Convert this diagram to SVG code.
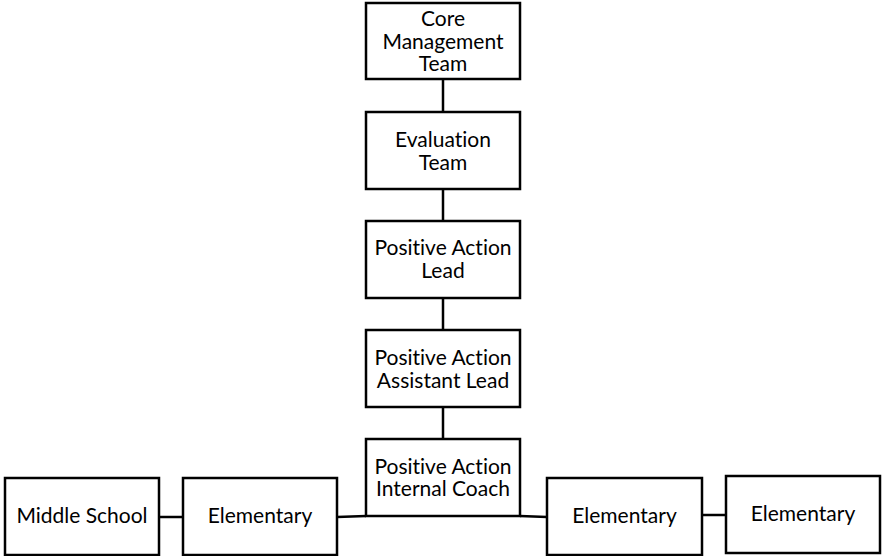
<svg xmlns="http://www.w3.org/2000/svg" width="882" height="556" viewBox="0 0 882 556">
<style>
.box{fill:#fff;stroke:#000;stroke-width:2.5}
.t{font-family:Lato,"Open Sans","Liberation Sans",sans-serif;font-size:21px;fill:#000;text-anchor:middle;font-variant-ligatures:none}
.c{stroke:#000;stroke-width:2.5;fill:none}
</style>
<rect width="882" height="556" fill="#fff"/>
<g id="connectors">
<line class="c" x1="443" y1="79" x2="443" y2="112"/>
<line class="c" x1="443" y1="189" x2="443" y2="221"/>
<line class="c" x1="443" y1="298" x2="443" y2="330"/>
<line class="c" x1="443" y1="407" x2="443" y2="439"/>
<line class="c" x1="159" y1="517" x2="183" y2="517"/>
<line class="c" x1="337" y1="517" x2="366" y2="516"/>
<line class="c" x1="520" y1="516" x2="547" y2="517"/>
<line class="c" x1="702" y1="515" x2="726" y2="515"/>
</g>
<g id="core">
<rect class="box" x="366" y="3" width="154" height="76"/>
<text class="t" x="443" y="26">Core</text>
<text class="t" x="443" y="48.5">Management</text>
<text class="t" x="443" y="71">Team</text>
</g>
<g id="evaluation">
<rect class="box" x="366" y="112" width="154" height="77"/>
<text class="t" x="443" y="147">Evaluation</text>
<text class="t" x="443" y="170">Team</text>
</g>
<g id="lead">
<rect class="box" x="366" y="221" width="154" height="77"/>
<text class="t" x="443" y="255">Positive Action</text>
<text class="t" x="443" y="278">Lead</text>
</g>
<g id="assistant">
<rect class="box" x="366" y="330" width="154" height="77"/>
<text class="t" x="443" y="365">Positive Action</text>
<text class="t" x="443" y="388">Assistant Lead</text>
</g>
<g id="coach">
<rect class="box" x="366" y="439" width="154" height="77"/>
<text class="t" x="443" y="474">Positive Action</text>
<text class="t" x="443" y="496">Internal Coach</text>
</g>
<g id="middle">
<rect class="box" x="5" y="478" width="154" height="77"/>
<text class="t" x="82" y="523">Middle School</text>
</g>
<g id="elem1">
<rect class="box" x="183" y="478" width="154" height="77"/>
<text class="t" x="260" y="523">Elementary</text>
</g>
<g id="elem2">
<rect class="box" x="547" y="478" width="155" height="77"/>
<text class="t" x="624.5" y="523">Elementary</text>
</g>
<g id="elem3">
<rect class="box" x="726" y="476" width="154" height="77"/>
<text class="t" x="803" y="521">Elementary</text>
</g>
</svg>
